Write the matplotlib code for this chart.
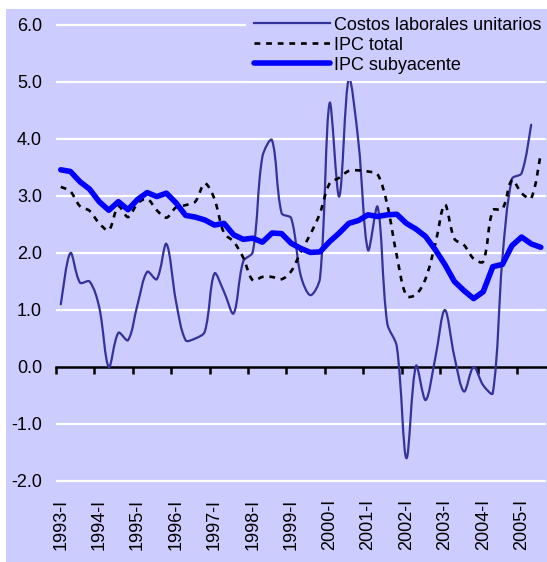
import matplotlib
matplotlib.use("Agg")
import matplotlib.pyplot as plt
from matplotlib.path import Path
from matplotlib.patches import PathPatch, Rectangle
from matplotlib.lines import Line2D
import matplotlib.transforms as mtransforms
import numpy as np

plt.rcParams['font.family'] = ['Liberation Sans', 'DejaVu Sans']

# ---------------- data (quarterly, 1993-I ... 2005-III) ----------------
year_labels = [f"{y}-I" for y in range(1993, 2006)]

costos = [1.10, 2.00, 1.48, 1.50, 1.05, 0.00, 0.60, 0.47, 1.10, 1.67,
          1.54, 2.16, 1.15, 0.47, 0.50, 0.62, 1.64, 1.32, 0.94, 1.85,
          2.02, 3.69, 3.98, 2.70, 2.61, 1.60, 1.26, 1.56, 4.63, 2.99,
          5.06, 3.95, 2.05, 2.81, 0.77, 0.36, -1.60, 0.02, -0.58, 0.15,
          1.00, 0.18, -0.43, 0.00, -0.32, -0.46, 1.90, 3.30, 3.40, 4.25]

ipc_total = [3.16, 3.08, 2.82, 2.74, 2.52, 2.40, 2.82, 2.63, 2.87, 2.95,
             2.75, 2.62, 2.80, 2.84, 2.90, 3.22, 2.95, 2.35, 2.20, 1.92,
             1.52, 1.58, 1.58, 1.54, 1.68, 2.02, 2.33, 2.70, 3.22, 3.32,
             3.44, 3.45, 3.43, 3.38, 2.85, 1.95, 1.25, 1.27, 1.55, 2.15,
             2.85, 2.25, 2.14, 1.90, 1.85, 2.75, 2.77, 3.28, 3.05, 2.96, 3.75]

ipc_sub = [3.46, 3.43, 3.25, 3.12, 2.90, 2.75, 2.90, 2.76, 2.94, 3.06,
           2.99, 3.05, 2.88, 2.66, 2.63, 2.58, 2.49, 2.52, 2.32, 2.24,
           2.26, 2.19, 2.35, 2.34, 2.17, 2.08, 2.01, 2.02, 2.20, 2.35,
           2.52, 2.57, 2.67, 2.64, 2.67, 2.68, 2.52, 2.42, 2.29, 2.06,
           1.80, 1.50, 1.34, 1.20, 1.32, 1.76, 1.80, 2.13, 2.28, 2.16, 2.10]

series_names = ["Costos laborales unitarios", "IPC total", "IPC subyacente"]
y_ticks = [-2, -1, 0, 1, 2, 3, 4, 5, 6]

# ---------------- styling ----------------
BG = '#CCCCFF'
C_COSTOS = '#333399'
C_TOTAL = 'black'
C_SUB = '#0000FF'
FS = 13

W, H = 547, 562
fig = plt.figure(figsize=(W / 100, H / 100), dpi=100)
fig.patch.set_facecolor('white')
fig.patches.append(Rectangle((6 / W, 0), 1 - 6 / W, 1 - 9 / H,
                             transform=fig.transFigure, facecolor=BG,
                             edgecolor='none', zorder=-10))

ax = fig.add_axes([56 / W, (H - 486.7) / H, 489.6 / W, 467.4 / H])
ax.patch.set_visible(False)
n = len(ipc_sub)
ax.set_xlim(-0.5, n - 0.5)
ax.set_ylim(-2.1, 6.1)

for s in ['top', 'right', 'left']:
    ax.spines[s].set_visible(False)
ax.spines['bottom'].set_position(('data', 0))
ax.spines['bottom'].set_color('black')
ax.spines['bottom'].set_linewidth(1.8)
ax.spines['bottom'].set_zorder(3)

# horizontal white gridlines
for v in y_ticks:
    if v != 0:
        ax.axhline(v, color='white', lw=1.6, zorder=1)

# x ticks at year boundaries, labels placed at the bottom
ax.set_xticks(np.arange(-0.5, n - 0.5, 4))
ax.tick_params(axis='x', direction='out', length=5, width=1.8,
               color='black', labelbottom=False)
trans = mtransforms.blended_transform_factory(ax.transData, fig.transFigure)
for k, lab in enumerate(year_labels):
    ax.text(4 * k, (H - 499) / H, lab, rotation=90, ha='center', va='top',
            fontsize=FS, transform=trans)

ax.set_yticks(y_ticks)
ax.set_yticklabels([f"{v:.1f}" for v in y_ticks], fontsize=FS)
ax.tick_params(axis='y', length=0, pad=10)


def smooth_path(xs, ys):
    """Smoothed Bezier path through the data points (Catmull-Rom tangents,
    weighted by neighbouring segment lengths in display space)."""
    data = np.column_stack([xs, ys]).astype(float)
    pts = ax.transData.transform(data)
    m = len(pts)
    seg = np.hypot(*np.diff(pts, axis=0).T)

    def handle(i, side):
        # side = +1: outgoing handle, -1: incoming handle at point i
        a = pts[i - 1] if i > 0 else pts[i]
        b = pts[i + 1] if i + 1 < m else pts[i]
        v = (b - a) / 6.0
        d_in = seg[i - 1] if i > 0 else seg[i]
        d_out = seg[i] if i < m - 1 else seg[i - 1]
        tot = d_in + d_out
        if tot == 0:
            return v * 0
        w = 2 * (d_out if side > 0 else d_in) / tot
        return v * w

    verts = [pts[0]]
    codes = [Path.MOVETO]
    for i in range(m - 1):
        p1, p2 = pts[i], pts[i + 1]
        c1 = p1 + handle(i, +1)
        c2 = p2 - handle(i + 1, -1)
        verts += [c1, c2, p2]
        codes += [Path.CURVE4] * 3
    verts = ax.transData.inverted().transform(np.array(verts))
    return Path(verts, codes)


dash = (0, (2.2, 2.2))
x_c = np.arange(len(costos))
x_t = np.arange(len(ipc_total))
x_s = np.arange(len(ipc_sub))

ax.add_patch(PathPatch(smooth_path(x_c, costos), fill=False,
                       edgecolor=C_COSTOS, lw=1.6, zorder=4,
                       capstyle='round', joinstyle='round'))
ax.add_patch(PathPatch(smooth_path(x_t, ipc_total), fill=False,
                       edgecolor=C_TOTAL, lw=1.9, linestyle=dash, zorder=5))
ax.plot(x_s, ipc_sub, color=C_SUB, lw=4.0, zorder=6,
        solid_joinstyle='round', solid_capstyle='round')

handles = [Line2D([], [], color=C_COSTOS, lw=1.6),
           Line2D([], [], color=C_TOTAL, lw=1.9, linestyle=dash),
           Line2D([], [], color=C_SUB, lw=4.0, solid_capstyle='round')]
leg = ax.legend(handles, series_names, loc='upper right',
                bbox_to_anchor=(1.0 + 2 / W, 1 - 9 / H),
                bbox_transform=fig.transFigure,
                frameon=True, facecolor=BG, edgecolor='none', framealpha=1,
                fancybox=False, fontsize=FS, handlelength=4.25,
                handletextpad=0.2, labelspacing=0.17, borderpad=0.42,
                borderaxespad=0)
leg.set_zorder(10)

fig.savefig('out.png', dpi=100, facecolor='white')
